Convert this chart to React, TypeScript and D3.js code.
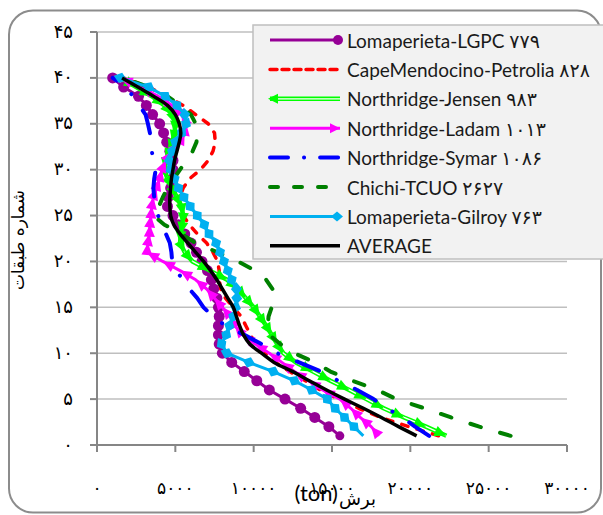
import React from "react";
import * as d3 from "d3";

// floors (categories)
const floors = [1,2,3,4,5,6,7,8,9,10,11,12,13,14,15,16,17,18,19,20,21,22,23,24,25,26,27,28,29,30,31,32,33,34,35,36,37,38,39,40];

// shear (ton) per floor, floor 1 .. floor 40
const lgpc = [15500,14800,13900,13000,12000,11000,10200,9400,8600,8000,7800,7750,7750,7800,7750,7650,7450,7300,7050,6700,6350,6000,5600,5200,4850,4500,4550,4700,4800,4850,4850,4650,4450,4250,4000,3550,3150,2650,1700,1000];
const petrolia = [21800,19900,18100,16700,15450,14250,13300,12300,11400,10700,10100,9800,9500,9200,8700,8200,7900,7800,7800,7700,7400,7000,6400,5900,5500,5250,5300,5500,5900,6600,7100,7400,7550,7500,7100,6300,5500,4400,3300,1700];
const jensen = [22300,21000,19600,18300,17200,16100,14900,13800,12700,11900,11500,11150,10800,10400,10000,9500,9000,8300,7200,6100,5600,5300,5350,5450,5500,5400,5100,4800,4500,4300,4400,4600,4800,4950,5000,4800,4300,3500,2500,1500];
const ladam = [18000,17500,16800,16200,15500,14400,13500,12600,11800,11000,10100,9300,8800,8500,8000,7500,7000,6300,5300,4200,3200,3250,3350,3380,3450,3500,3600,3800,4000,4150,4400,4800,5300,5600,5700,5400,4800,3900,2800,1500];
const symar = [21200,20300,19500,18500,17650,16600,15400,14300,12900,11500,10500,9400,8200,7400,6800,6400,5900,5500,5050,4800,4750,4650,4400,4100,3900,3750,3650,3600,3650,3750,3600,3500,3450,3380,3250,3100,2700,2300,1850,1000];
const chichi = [26400,24400,22600,20900,19100,17900,16300,14900,13900,12600,11700,11000,10900,10950,11150,11250,11200,10800,10100,9000,7700,6300,5400,4300,3600,3950,4200,4500,4900,5300,5700,6100,6350,6400,6300,6000,5300,4500,3300,1700];
const gilroy = [17000,16400,15800,15200,14700,13700,12600,11250,9700,8300,7950,8250,8450,8700,8850,8920,8900,8600,8350,8100,7850,7600,7150,6850,6400,5950,5550,5200,4950,4700,4620,4800,5000,5400,5680,5600,5100,4350,3300,1500];
const average = [20400,19250,18150,17000,15800,14650,13550,12500,11300,10500,9750,9350,9100,8900,8700,8350,8000,7650,7250,6800,6300,5800,5300,4900,4700,4650,4650,4700,4750,4850,4950,5100,5250,5350,5250,5000,4500,3600,2600,1600];

const seriesNames = [
  "Lomaperieta-LGPC ۷۷۹",
  "CapeMendocino-Petrolia ۸۲۸",
  "Northridge-Jensen ۹۸۳",
  "Northridge-Ladam ۱۰۱۳",
  "Northridge-Symar ۱۰۸۶",
  "Chichi-TCUO ۲۶۲۷",
  "Lomaperieta-Gilroy ۷۶۳",
  "AVERAGE",
];

const xTicks = [0, 5000, 10000, 15000, 20000, 25000, 30000];
const xTickLabels = ["۰", "۵۰۰۰", "۱۰۰۰۰", "۱۵۰۰۰", "۲۰۰۰۰", "۲۵۰۰۰", "۳۰۰۰۰"];
const yTicks = [0, 5, 10, 15, 20, 25, 30, 35, 40, 45];
const yTickLabels = ["۰", "۵", "۱۰", "۱۵", "۲۰", "۲۵", "۳۰", "۳۵", "۴۰", "۴۵"];
const yTitle = "شماره طبقات";
const xTitleUnit = "(ton)";
const xTitleWord = "برش";

type Marker = "none" | "circleEnd" | "arrowEnd" | "arrowBegin" | "diamondEnd";
interface S { name: string; values: number[]; color: string; width: number; dash?: string; cap?: string; marker: Marker; double?: boolean; smooth?: boolean; }

const series: S[] = [
  { name: seriesNames[0], values: lgpc, color: "#960096", width: 3, marker: "circleEnd" },
  { name: seriesNames[1], values: petrolia, color: "#ff0000", width: 3.5, dash: "6.5 9.5", cap: "round", marker: "none" },
  { name: seriesNames[2], values: jensen, color: "#00ff00", width: 4.5, marker: "arrowBegin", double: true },
  { name: seriesNames[3], values: ladam, color: "#ff00ff", width: 3, marker: "arrowEnd" },
  { name: seriesNames[4], values: symar, color: "#0000ff", width: 4, dash: "24 20 0.1 20", cap: "round", marker: "none" },
  { name: seriesNames[5], values: chichi, color: "#008000", width: 4, dash: "11 20", cap: "round", marker: "none" },
  { name: seriesNames[6], values: gilroy, color: "#00b0f0", width: 3, marker: "diamondEnd" },
  { name: seriesNames[7], values: average, color: "#000000", width: 3.5, marker: "none", smooth: true },
];

function arrowPath(tx: number, ty: number, dx: number, dy: number, L = 12, Wd = 11) {
  const len = Math.hypot(dx, dy) || 1;
  const ux = dx / len, uy = dy / len;
  const px = -uy, py = ux;
  const bx = tx - ux * L, by = ty - uy * L;
  return `M${tx},${ty}L${bx + px * Wd / 2},${by + py * Wd / 2}L${bx - px * Wd / 2},${by - py * Wd / 2}Z`;
}
function diamondPath(cx: number, cy: number, dx: number, dy: number, L = 14, Wd = 11) {
  const len = Math.hypot(dx, dy) || 1;
  const ux = dx / len, uy = dy / len;
  const px = -uy, py = ux;
  return `M${cx + ux * L / 2},${cy + uy * L / 2}L${cx + px * Wd / 2},${cy + py * Wd / 2}L${cx - ux * L / 2},${cy - uy * L / 2}L${cx - px * Wd / 2},${cy - py * Wd / 2}Z`;
}

function markersFor(s: S, pts: [number, number][]) {
  const out: any[] = [];
  for (let i = 0; i < pts.length - 1; i++) {
    const [x0, y0] = pts[i];
    const [x1, y1] = pts[i + 1];
    const dx = x1 - x0, dy = y1 - y0;
    if (s.marker === "circleEnd") out.push(<circle key={i} cx={x1} cy={y1} r={5.5} fill={s.color} />);
    if (s.marker === "arrowEnd") out.push(<path key={i} d={arrowPath(x1, y1, dx, dy)} fill={s.color} />);
    if (s.marker === "arrowBegin") out.push(<path key={i} d={arrowPath(x0, y0, -dx, -dy)} fill={s.color} />);
    if (s.marker === "diamondEnd") out.push(<path key={i} d={diamondPath(x1, y1, dx, dy)} fill={s.color} />);
  }
  if (s.marker === "circleEnd") out.push(<circle key="first" cx={pts[0][0]} cy={pts[0][1]} r={4.5} fill={s.color} />);
  return out;
}

export default function App() {
  const W = 603, H = 515;
  const x = d3.scaleLinear().domain([0, 30000]).range([97, 567]);
  const y = d3.scaleLinear().domain([0, 45]).range([445, 32]);
  const latin = "Lato, 'DejaVu Sans', sans-serif";
  const fa = "'DejaVu Sans', sans-serif";

  const legendX = 253, legendY = 25;
  const rowY = (i: number) => 40 + i * 29.4;

  return (
    <svg width={W} height={H} style={{ position: "absolute", left: 0, top: 0, background: "#fff" }}>
      <rect x={9} y={10.5} width={592} height={502} rx={24} fill="#fff" stroke="#8c8c8c" strokeWidth={2} />
      {/* gridlines */}
      {yTicks.filter((t) => t > 0).map((t) => (
        <line key={t} x1={97} x2={567} y1={y(t)} y2={y(t)} stroke="#bfbfbf" strokeWidth={1.5} />
      ))}
      {/* axes */}
      <line x1={97} x2={97} y1={y(45)} y2={y(0)} stroke="#868686" strokeWidth={2} />
      <line x1={97} x2={567} y1={y(0)} y2={y(0)} stroke="#868686" strokeWidth={2} />
      {yTicks.map((t, i) => (
        <g key={t}>
          <line x1={90} x2={97} y1={y(t)} y2={y(t)} stroke="#868686" strokeWidth={2} />
          <text x={73} y={y(t) - 1} textAnchor="end" dominantBaseline="central" fontFamily={fa} fontSize={18} fill="#000">{yTickLabels[i]}</text>
        </g>
      ))}
      {xTicks.map((t, i) => (
        <g key={t}>
          <line x1={x(t)} x2={x(t)} y1={445} y2={452} stroke="#868686" strokeWidth={2} />
          <text x={x(t)} y={494} textAnchor="middle" fontFamily={fa} fontSize={17} letterSpacing={3} fill="#000">{xTickLabels[i]}</text>
        </g>
      ))}
      {/* titles */}
      <text transform="translate(24,240) rotate(-90)" textAnchor="middle" fontFamily={fa} fontSize={17} fill="#000">{yTitle}</text>
      <text x={338} y={501} textAnchor="end" fontFamily={latin} fontSize={22} fill="#000">{xTitleUnit}</text>
      <text x={339} y={505} textAnchor="start" fontFamily={fa} fontSize={18} fill="#000">{xTitleWord}</text>

      {/* series */}
      {series.map((s, si) => {
        const pts: [number, number][] = s.values.map((v, i) => [x(v), y(floors[i])]);
        const line = d3.line<[number, number]>().curve(s.smooth ? d3.curveCatmullRom.alpha(0.5) : d3.curveLinear);
        const d = line(pts) || "";
        return (
          <g key={si}>
            <path d={d} fill="none" stroke={s.color} strokeWidth={s.width} strokeDasharray={s.dash} strokeLinecap={(s.cap as any) || "butt"} strokeLinejoin="round" />
            {s.double && <path d={d} fill="none" stroke="#ffffff" strokeWidth={1.3} strokeLinejoin="round" />}
            {markersFor(s, pts)}
          </g>
        );
      })}

      {/* legend */}
      <rect x={legendX} y={legendY} width={380} height={234} fill="#f2f2f2" stroke="#bfbfbf" strokeWidth={1.5} />
      {series.map((s, i) => {
        const ly = rowY(i);
        const x0 = 270, x1 = 340;
        return (
          <g key={i}>
            <line x1={x0} x2={x1} y1={ly} y2={ly} stroke={s.color} strokeWidth={s.width} strokeDasharray={s.dash ? (i === 1 ? "7 5" : i === 4 ? "18 16 0.1 16" : "8 16") : undefined} strokeLinecap={(s.cap as any) || "butt"} />
            {s.double && <line x1={x0} x2={x1} y1={ly} y2={ly} stroke="#fff" strokeWidth={1.3} />}
            {s.marker === "circleEnd" && <circle cx={338} cy={ly} r={5} fill={s.color} />}
            {s.marker === "arrowEnd" && <path d={arrowPath(x1, ly, 1, 0, 10, 10)} fill={s.color} />}
            {s.marker === "arrowBegin" && <path d={arrowPath(x0 - 2, ly, -1, 0, 10, 10)} fill={s.color} />}
            {s.marker === "diamondEnd" && <path d={diamondPath(337, ly, 1, 0, 12, 10)} fill={s.color} />}
            <text x={347} y={ly} dominantBaseline="central" fontFamily={latin} fontSize={19} fill="#1a1a1a">{s.name}</text>
          </g>
        );
      })}
    </svg>
  );
}
